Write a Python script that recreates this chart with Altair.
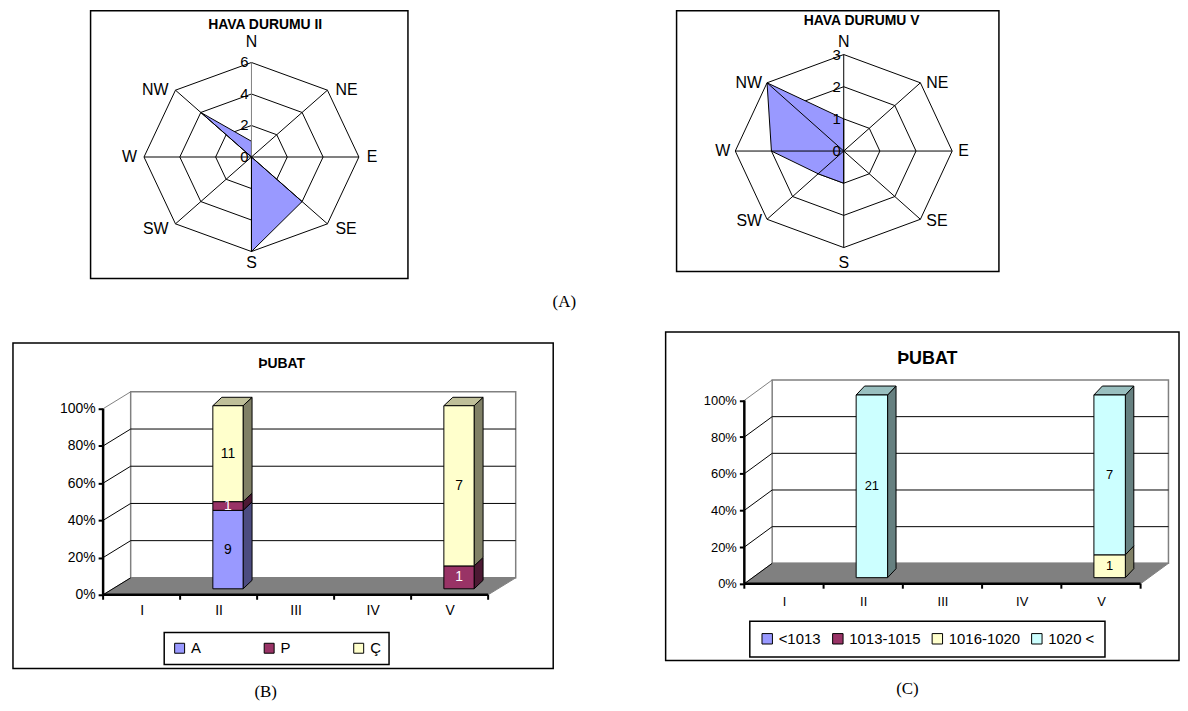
import json
import pandas as pd
import altair as alt

# ---------------- data ----------------
directions = ["N", "NE", "E", "SE", "S", "SW", "W", "NW"]
radar2_values = [1, 0, 0, 4, 6, 0, 0, 4]
radar5_values = [1, 0, 0, 0, 1, 1, 2, 3]
radar2_ticks = [0, 2, 4, 6]
radar5_ticks = [0, 1, 2, 3]
radar2_title = "HAVA DURUMU II"
radar5_title = "HAVA DURUMU  V"

periods = ["I", "II", "III", "IV", "V"]
sky_series = ["A", "P", "Ç"]
sky_A = [0, 9, 0, 0, 0]
sky_P = [0, 1, 0, 0, 1]
sky_C = [0, 11, 0, 0, 7]

pres_series = ["<1013", "1013-1015", "1016-1020", "1020 <"]
pres_lt1013 = [0, 0, 0, 0, 0]
pres_1013_1015 = [0, 0, 0, 0, 0]
pres_1016_1020 = [0, 0, 0, 0, 1]
pres_gt1020 = [0, 21, 0, 0, 7]

pct_ticks = [0, 0.2, 0.4, 0.6, 0.8, 1.0]
bar_title = "ÞUBAT"
panel_labels = ["(A)", "(B)", "(C)"]

# ---------------- styles ----------------
FONT = "Liberation Sans"
SERIF = "Liberation Serif"
GRAY = "#808080"
RADAR_FILL = "#9999FF"
sky_front = ["#9999FF", "#993366", "#FFFFCC"]
sky_side = ["#4C4C80", "#4C1933", "#808066"]
sky_top = ["#7373BF", "#73264D", "#BFBF99"]
sky_label = ["black", "white", "black"]
pres_front = ["#9999FF", "#993366", "#FFFFCC", "#CCFFFF"]
pres_side = ["#4C4C80", "#4C1933", "#808066", "#668080"]
pres_top = ["#7373BF", "#73264D", "#BFBF99", "#99BFBF"]
pres_label = ["black", "white", "black", "black"]

# ---------------- layout (page pixels) ----------------
radar2_geo = dict(box=(88, 8, 407, 277), center=(249.7, 155), rx=108, ry=95, axis_color=GRAY,
                  labels=[(["N"], "center", "alphabetic", 0, -16), (["S"], "center", "top", 0, 4),
                          (["NE", "E"], "left", "middle", 8, 0), (["SE"], "left", "middle", 8, 5),
                          (["NW", "W"], "right", "middle", -7, 0), (["SW"], "right", "middle", -7, 5)],
                  font=16, tick_font=15, title_size=14, title_offset=-21, title_dx=16)
radar5_geo = dict(box=(673, 8, 997, 270), center=(841, 149), rx=109, ry=97, axis_color="black",
                  labels=[(["N"], "center", "alphabetic", 0, -8), (["S"], "center", "top", 0, 8),
                          (["NE", "E"], "left", "middle", 6, 0), (["SE"], "left", "middle", 6, 2),
                          (["NW", "W"], "right", "middle", -5, 0), (["SW"], "right", "middle", -5, 2)],
                  font=16, tick_font=15, title_size=14, title_offset=-17, title_dx=24)
barB_geo = dict(box=(10, 339, 553, 666), ax=100.6, ay=592, ux=77.4, uy=187, floor=(27.7, 17),
                bar_off=(9.4, 6), bar_hw=15.2, bar_h=184, bar_depth=(9, 8.5), tick=5,
                ylab=14, xlab=14, xlab_pad=9, label_size=14, title_size=14, title_offset=-28, title_dx=-1.5,
                legend=dict(x=152, y=291, pad=8, cp=60, font=15, sym=100))
barC_geo = dict(box=(662, 330, 1178, 660), ax=741.1, ay=582.9, ux=79.66, uy=184.3, floor=(28, 20.5),
                bar_off=(8.7, 6.1), bar_hw=15.8, bar_h=183.6, bar_depth=(8.5, 9), tick=5,
                ylab=13, xlab=13, xlab_pad=12, label_size=13, title_size=18, title_offset=-36, title_dx=5,
                legend=dict(x=84.6, y=290.5, pad=10, cp=9, font=15, sym=110))
ORIGIN = (8, 8)


def spacer(w, h):
    return alt.Chart(pd.DataFrame({"s": [0]})).mark_point(size=0, strokeWidth=0, opacity=0).encode(
        x=alt.value(0), y=alt.value(0)).properties(width=w, height=h)


def panel_view():
    return alt.ViewBackground(stroke="black", strokeWidth=1.5, fill="white")


def radar_panel(values, ticks, title, geo):
    x0, y0, x1, y1 = geo["box"]
    cx, cy = geo["center"]
    vmax = ticks[-1]
    kx, ky = geo["rx"] / vmax, geo["ry"] / vmax
    xs = alt.Scale(domain=[-(cx - x0) / kx, (x1 - cx) / kx], nice=False, zero=False)
    ys = alt.Scale(domain=[-(y1 - cy) / ky, (cy - y0) / ky], nice=False, zero=False)
    n = len(directions)
    ang = f"datum.i * 2 * PI / {n}"

    def X(f):
        return alt.X(f"{f}:Q", scale=xs, axis=None)

    def Y(f):
        return alt.Y(f"{f}:Q", scale=ys, axis=None)

    dir_df = pd.DataFrame({"i": list(range(n)), "dir": directions, "v": values})
    base = alt.Chart(dir_df).transform_calculate(
        px=f"datum.v * sin({ang})", py=f"datum.v * cos({ang})",
        ex=f"{vmax} * sin({ang})", ey=f"{vmax} * cos({ang})", o="0")

    ring_df = pd.DataFrame([{"i": i, "t": t} for t in ticks if t > 0 for i in range(n)])
    rings = alt.Chart(ring_df).transform_calculate(
        qx=f"datum.t * sin({ang})", qy=f"datum.t * cos({ang})"
    ).mark_line(interpolate="linear-closed", stroke="black", strokeWidth=1).encode(
        x=X("qx"), y=Y("qy"), detail="t:N", order="i:Q")

    spokes = base.mark_rule(strokeWidth=1).encode(
        x=X("o"), y=Y("o"), x2="ex:Q", y2="ey:Q",
        color=alt.when("datum.i == 0").then(alt.value(geo["axis_color"])).otherwise(alt.value("black")))

    poly = base.mark_line(interpolate="linear-closed", fill=RADAR_FILL, stroke="black",
                          strokeWidth=1).encode(x=X("px"), y=Y("py"), order="i:Q")

    labs = []
    for names, align, baseline, dx, dy in geo["labels"]:
        labs.append(base.transform_filter(alt.FieldOneOfPredicate(field="dir", oneOf=names)).mark_text(
            align=align, baseline=baseline, dx=dx, dy=dy, font=FONT, fontSize=geo["font"], color="black"
        ).encode(x=X("ex"), y=Y("ey"), text="dir:N"))

    tick_lab = alt.Chart(pd.DataFrame({"t": ticks})).transform_calculate(o="0").mark_text(
        align="right", baseline="middle", dx=-3, font=FONT, fontSize=geo["tick_font"], color="black"
    ).encode(x=X("o"), y=Y("t"), text="t:Q")

    return alt.layer(rings, poly, spokes, *labs, tick_lab).properties(
        width=x1 - x0, height=y1 - y0, view=panel_view(),
        title=alt.TitleParams(title, font=FONT, fontSize=geo["title_size"], fontWeight="bold",
                              anchor="middle", offset=geo["title_offset"], dx=geo["title_dx"], color="black"))


def bar_panel(series, counts, front, side, topc, labc, geo):
    x0, y0, x1, y1 = geo["box"]
    ax, ay, ux, uy = geo["ax"], geo["ay"], geo["ux"], geo["uy"]
    xs = alt.Scale(domain=[-(ax - x0) / ux, (x1 - ax) / ux], nice=False, zero=False)
    ys = alt.Scale(domain=[-(y1 - ay) / uy, (ay - y0) / uy], nice=False, zero=False)
    ncat = len(periods)
    top = pct_ticks[-1]

    x_axis = alt.Axis(
        values=[i + 0.5 for i in range(ncat)], labelExpr=f"{json.dumps(periods)}[floor(datum.value)]",
        domain=False, grid=False, ticks=False, labelFont=FONT, labelFontSize=geo["xlab"],
        labelColor="black", labelPadding=geo["xlab_pad"], labelFlush=False, labelOverlap=False,
        offset=-(y1 - ay), title=None)
    y_axis = alt.Axis(
        values=pct_ticks, format="%", domain=False, grid=False, tickSize=5, tickWidth=2,
        tickColor="black", labelFont=FONT, labelFontSize=geo["ylab"], labelColor="black",
        labelPadding=3, labelFlush=False, labelOverlap=False, offset=-(ax - x0), title=None)

    def X(f):
        return alt.X(f"{f}:Q", scale=xs, axis=x_axis)

    def Y(f):
        return alt.Y(f"{f}:Q", scale=ys, axis=y_axis)

    fdx, fdy = geo["floor"][0] / ux, geo["floor"][1] / uy
    ox, oy = geo["bar_off"][0] / ux, geo["bar_off"][1] / uy
    hw = geo["bar_hw"] / ux
    bh = geo["bar_h"] / uy
    ddx, ddy = geo["bar_depth"][0] / ux, geo["bar_depth"][1] / uy

    wall = alt.Chart(pd.DataFrame({"a": [fdx], "b": [ncat + fdx], "c": [fdy], "d": [top + fdy]})).mark_rect(
        fill="white", stroke=GRAY, strokeWidth=1.5).encode(x=X("a"), x2="b:Q", y=Y("c"), y2="d:Q")

    grid = alt.Chart(pd.DataFrame({"t": pct_ticks[1:-1]})).transform_calculate(
        a=f"{fdx}", b=f"{ncat + fdx}", yy=f"datum.t + {fdy}"
    ).mark_rule(color="black", strokeWidth=1).encode(x=X("a"), x2="b:Q", y=Y("yy"))

    floor_df = pd.DataFrame({"k": [0, 1, 2, 3], "x": [0, ncat, ncat + fdx, fdx], "y": [0, 0, fdy, fdy]})
    floor = alt.Chart(floor_df).mark_line(interpolate="linear-closed", fill=GRAY, stroke=GRAY,
                                          strokeWidth=1).encode(x=X("x"), y=Y("y"), order="k:Q")

    diag = alt.Chart(pd.DataFrame({"t": pct_ticks})).transform_calculate(
        a="0", b=f"{fdx}", yb=f"datum.t + {fdy}"
    ).mark_rule(strokeWidth=1).encode(
        x=X("a"), x2="b:Q", y=Y("t"), y2="yb:Q",
        color=alt.when(f"datum.t == {top}").then(alt.value(GRAY)).otherwise(alt.value("black")))

    # stacked segments (normalised per period)
    fr, polys = [], []
    pid = 0
    for c in range(ncat):
        total = sum(counts[s][c] for s in range(len(series)))
        if total == 0:
            continue
        cum = 0
        for s in range(len(series)):
            v = counts[s][c]
            if v == 0:
                continue
            f0 = cum / total
            cum += v
            f1 = cum / total
            xl, xr = c + 0.5 + ox - hw, c + 0.5 + ox + hw
            yb, yt = oy + f0 * bh, oy + f1 * bh
            fr.append(dict(series=series[s], xl=xl, xr=xr, yb=yb, yt=yt, n=v,
                           mx=(xl + xr) / 2, my=(yb + yt) / 2, tc=labc[s]))
            pid += 1
            for k, (px, py) in enumerate([(xr, yb), (xr + ddx, yb + ddy), (xr + ddx, yt + ddy), (xr, yt)]):
                polys.append(dict(pid=pid, face="side", s=s, k=k, x=px, y=py))
            if cum == total:
                pid += 1
                for k, (px, py) in enumerate([(xl, yt), (xr, yt), (xr + ddx, yt + ddy), (xl + ddx, yt + ddy)]):
                    polys.append(dict(pid=pid, face="top", s=s, k=k, x=px, y=py))
    fr_df = pd.DataFrame(fr)
    poly_df = pd.DataFrame(polys)

    face_layers = []
    for s in range(len(series)):
        for face, cols in (("side", side), ("top", topc)):
            sub = poly_df[(poly_df["s"] == s) & (poly_df["face"] == face)]
            if len(sub) == 0:
                continue
            face_layers.append(alt.Chart(sub).mark_line(
                interpolate="linear-closed", fill=cols[s], stroke="black", strokeWidth=1
            ).encode(x=X("x"), y=Y("y"), detail="pid:N", order="k:Q"))

    lg = geo["legend"]
    fronts = alt.Chart(fr_df).mark_rect(stroke="black", strokeWidth=1).encode(
        x=X("xl"), x2="xr:Q", y=Y("yb"), y2="yt:Q",
        color=alt.Color("series:N", scale=alt.Scale(domain=series, range=front),
                        legend=alt.Legend(orient="none", legendX=lg["x"], legendY=lg["y"],
                                          direction="horizontal", title=None, symbolType="square",
                                          symbolSize=lg["sym"], symbolStrokeColor="black",
                                          symbolStrokeWidth=1, labelFont=FONT, labelFontSize=lg["font"],
                                          labelColor="black", labelOffset=4, columnPadding=lg["cp"],
                                          padding=lg["pad"], strokeColor="black",
                                          fillColor="white")))

    texts = alt.Chart(fr_df).mark_text(font=FONT, fontSize=geo["label_size"], baseline="middle").encode(
        x=X("mx"), y=Y("my"), text="n:Q", color=alt.Color("tc:N", scale=None))

    axis_df = pd.DataFrame({"x": [0, 0], "y": [0, 0], "x2": [0, ncat], "y2": [top, 0]})
    axes = alt.Chart(axis_df).mark_rule(color="black", strokeWidth=2.5).encode(
        x=X("x"), y=Y("y"), x2="x2:Q", y2="y2:Q")

    xt = alt.Chart(pd.DataFrame({"c": list(range(ncat + 1))})).transform_calculate(
        y0="0", yb=f"{-geo['tick'] / uy}"
    ).mark_rule(color="black", strokeWidth=2).encode(x=X("c"), y=Y("y0"), y2="yb:Q")

    return alt.layer(wall, grid, floor, diag, *face_layers, fronts, texts, axes, xt).properties(
        width=x1 - x0, height=y1 - y0, view=panel_view(),
        title=alt.TitleParams(bar_title, font=FONT, fontSize=geo["title_size"], fontWeight="bold",
                              anchor="middle", offset=geo["title_offset"], dx=geo["title_dx"], color="black"))


radar2 = radar_panel(radar2_values, radar2_ticks, radar2_title, radar2_geo)
radar5 = radar_panel(radar5_values, radar5_ticks, radar5_title, radar5_geo)
barB = bar_panel(sky_series, [sky_A, sky_P, sky_C], sky_front, sky_side, sky_top, sky_label, barB_geo)
barC = bar_panel(pres_series, [pres_lt1013, pres_1013_1015, pres_1016_1020, pres_gt1020],
                 pres_front, pres_side, pres_top, pres_label, barC_geo)

ind = dict(x="independent", y="independent", color="independent")

r2b, r5b = radar2_geo["box"], radar5_geo["box"]
row1 = alt.hconcat(
    spacer(r2b[0] - ORIGIN[0], 1), radar2, spacer(r5b[0] - r2b[2], 1), radar5, spacing=0,
    title=alt.TitleParams(panel_labels[0], orient="bottom", anchor="middle", font=SERIF, fontSize=17,
                          fontWeight="normal", offset=15, dx=60.5, color="black")
).resolve_scale(**ind)

bb, cb = barB_geo["box"], barC_geo["box"]
row2_top = min(bb[1], cb[1])
wrapB = alt.vconcat(
    spacer(1, bb[1] - row2_top), barB, spacing=0,
    title=alt.TitleParams(panel_labels[1], orient="bottom", anchor="middle", font=SERIF, fontSize=17,
                          fontWeight="normal", offset=15, dx=-17.5, color="black")
).resolve_scale(**ind)
wrapC = alt.vconcat(
    barC, spacing=0,
    title=alt.TitleParams(panel_labels[2], orient="bottom", anchor="middle", font=SERIF, fontSize=17,
                          fontWeight="normal", offset=20, dx=-15, color="black")
).resolve_scale(**ind)
row2 = alt.hconcat(
    spacer(bb[0] - ORIGIN[0], 1), wrapB, spacer(cb[0] - bb[2], 1), wrapC, spacing=0
).resolve_scale(**ind)

chart = alt.vconcat(row1, row2, spacing=21).resolve_scale(**ind).properties(padding=0).configure_view(
    stroke="transparent").configure_legend(strokeWidth=1.5)

chart.save("out.html", embed_options={"renderer": "svg", "actions": False})
